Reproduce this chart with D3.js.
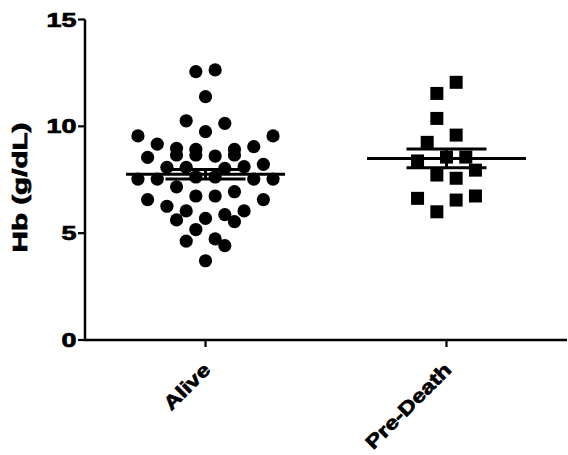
<!DOCTYPE html>
<html>
<head>
<meta charset="utf-8">
<script src="https://cdn.jsdelivr.net/npm/d3@7"></script>
<style>
  html, body { margin: 0; padding: 0; background: #fff; }
  svg { display: block; }
  text { font-family: "Liberation Sans", Arial, sans-serif; font-weight: bold; fill: #000;
         stroke: #000; stroke-width: 0.7px; }
</style>
</head>
<body>
<svg id="chart" width="568" height="455"></svg>
<script>
// ---- data ----
const categories = ["Alive", "Pre-Death"];
const yTicks = [0, 5, 10, 15];
const yLabel = "Hb (g/dL)";

// Hb values (g/dL) and beeswarm column slot for each point
const aliveValues = [12.56, 12.64, 11.39, 10.26, 10.14, 9.75, 9.55, 9.55, 9.17, 9.05,
  8.97, 8.92, 8.92, 8.55, 8.66, 8.66, 8.61, 8.66, 8.22, 8.08,
  8.08, 8.03, 8.11, 7.53, 7.53, 7.53, 7.53, 7.63, 7.63, 7.17,
  6.74, 6.74, 6.94, 6.57, 6.57, 6.26, 6.04, 6.04, 5.87, 5.62,
  5.69, 5.54, 5.17, 4.63, 4.73, 4.42, 3.71];
const aliveSlots = [-1, 1, 0, -2, 2, 0, -7, 7, -5, 5,
  -3, -1, 3, -6, -3, -1, 1, 3, 6, -4,
  -2, 2, 4, -7, -5, 5, 7, -1, 1, -3,
  -1, 1, 3, -6, 6, -4, -2, 4, 2, -3,
  0, 3, -1, -2, 1, 2, 0];

const deathValues = [12.06, 11.54, 10.37, 9.59, 9.25, 8.38, 8.56, 8.56, 7.95, 7.72,
  7.57, 6.63, 6.55, 6.74, 6.00];
const deathSlots = [1, -1, -1, 1, -2, -3, 0, 2, 3, -1,
  1, -3, 1, 3, -1];

const means = [7.76, 8.50];
const sems = [0.22, 0.44];

// ---- layout ----
const svg = d3.select("#chart");
const x = d3.scalePoint().domain(categories).range([85, 567]).padding(0.5);
const y = d3.scaleLinear().domain([0, 15]).range([340, 19.5]);
const jitter = d3.scaleLinear().domain([-1, 1]).range([-9.65, 9.65]);

// axes lines
const axisG = svg.append("g");
axisG.append("line").attr("x1", 85).attr("x2", 85).attr("y1", y(15)).attr("y2", y(0))
  .attr("stroke", "#000").attr("stroke-width", 2.5);
axisG.append("line").attr("x1", 84).attr("x2", 567).attr("y1", y(0)).attr("y2", y(0))
  .attr("stroke", "#000").attr("stroke-width", 2.5);

// y ticks
yTicks.forEach(t => {
  axisG.append("line").attr("x1", 78).attr("x2", 85).attr("y1", y(t)).attr("y2", y(t))
    .attr("stroke", "#000").attr("stroke-width", 2.2);
  axisG.append("text")
    .attr("transform", `translate(76.5,${y(t) + 7}) scale(1.38,1)`)
    .attr("text-anchor", "end")
    .style("font-size", "19.5px")
    .text(t);
});

// x ticks
categories.forEach(c => {
  axisG.append("line").attr("x1", x(c)).attr("x2", x(c)).attr("y1", y(0)).attr("y2", y(0) + 7)
    .attr("stroke", "#000").attr("stroke-width", 2.2);
  axisG.append("text")
    .attr("transform", `translate(${x(c) + 6},${y(0) + 31}) rotate(-45) scale(1.25,1)`)
    .attr("text-anchor", "end")
    .style("font-size", "19px")
    .text(c);
});

// y title
svg.append("text")
  .attr("transform", `translate(27,187.5) rotate(-90) scale(1.52,1)`)
  .attr("text-anchor", "middle")
  .style("font-size", "19.5px")
  .text(yLabel);

// points
const alive = aliveValues.map((v, i) => ({ v, s: aliveSlots[i] }));
const death = deathValues.map((v, i) => ({ v, s: deathSlots[i] }));

svg.append("g").selectAll("circle").data(alive).join("circle")
  .attr("cx", d => x("Alive") + jitter(d.s))
  .attr("cy", d => y(d.v))
  .attr("r", 6.6)
  .attr("fill", "#000");

const sq = 13;
svg.append("g").selectAll("rect").data(death).join("rect")
  .attr("x", d => x("Pre-Death") + jitter(d.s) - sq / 2)
  .attr("y", d => y(d.v) - sq / 2)
  .attr("width", sq).attr("height", sq)
  .attr("fill", "#000");

// mean and SEM bars
const statG = svg.append("g");
categories.forEach((c, i) => {
  const cx = x(c);
  statG.append("line").attr("x1", cx - 79.5).attr("x2", cx + 79.5)
    .attr("y1", y(means[i])).attr("y2", y(means[i]))
    .attr("stroke", "#000").attr("stroke-width", 3);
  statG.append("line").attr("x1", cx).attr("x2", cx)
    .attr("y1", y(means[i] + sems[i])).attr("y2", y(means[i] - sems[i]))
    .attr("stroke", "#000").attr("stroke-width", 3);
  [means[i] + sems[i], means[i] - sems[i]].forEach(v => {
    statG.append("line").attr("x1", cx - 40).attr("x2", cx + 40)
      .attr("y1", y(v)).attr("y2", y(v))
      .attr("stroke", "#000").attr("stroke-width", 3);
  });
});
</script>
</body>
</html>
